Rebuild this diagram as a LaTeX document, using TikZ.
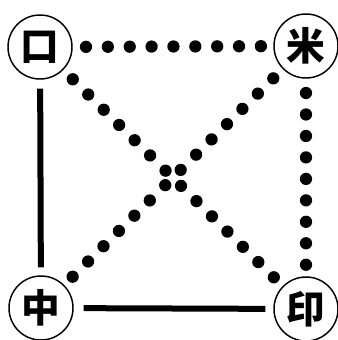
\documentclass[tikz,border=0pt]{standalone}
\usepackage{fontspec}
\newfontfamily\cjk{Noto Sans CJK SC}
\usetikzlibrary{calc}
\tikzset{
  cnode/.style={circle,draw,line width=1.1pt,minimum size=48pt,inner sep=0pt,
    font=\cjk\bfseries\fontsize{29}{29}\selectfont},
  solidline/.style={line width=4.5pt,line cap=butt},
  dotfill/.style={fill=black},
}
\newcommand{\dotrow}[5]{% a, b, first (pt), step (pt), count-1
  \foreach \i in {0,...,#5}{
    \fill[dotfill] ($(#1)!{#3+\i*#4}!(#2)$) circle (4.6pt);
  }}
\begin{document}
\begin{tikzpicture}[x=0.75pt,y=-0.75pt]
\useasboundingbox (0,0) rectangle (338,340);
\node[cnode] (kou) at (40,47) {口};
\node[cnode] (mi) at (306,46) {米};
\node[cnode] (zhong) at (41,308) {中};
\node[cnode] (yin) at (306,309) {印};
\draw[solidline,shorten <=6.75pt,shorten >=6pt] (kou) -- (zhong);
\draw[solidline,shorten <=7.5pt,shorten >=6pt] (zhong) -- (yin);
% dotted connectors (pt distances)
\foreach \a/\b/\f/\s/\n in {kou/mi/34.5pt/16.4pt/8, mi/yin/35.25pt/16.1pt/8, kou/yin/34.5pt/16.28pt/13, mi/zhong/34.5pt/16.28pt/13}{
  \dotrow{\a}{\b}{\f}{\s}{\n}
}
\end{tikzpicture}
\end{document}
